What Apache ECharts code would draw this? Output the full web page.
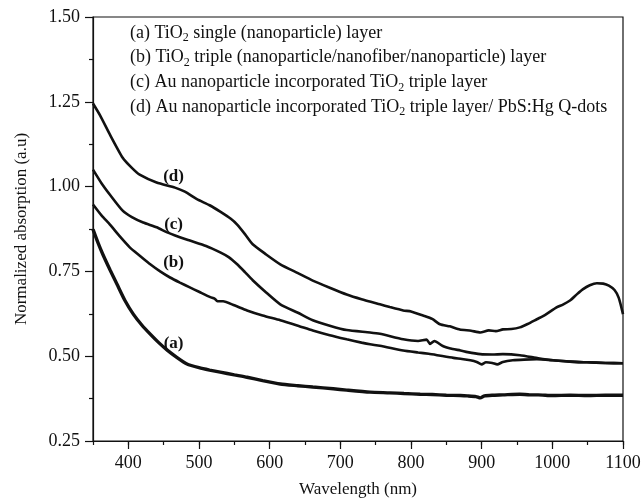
<!DOCTYPE html>
<html><head><meta charset="utf-8">
<script src="https://cdn.jsdelivr.net/npm/echarts@6/dist/echarts.min.js"></script>
<style>html,body{margin:0;padding:0;background:#fff}#c{width:644px;height:503px}</style>
</head><body><div id="c"></div>
<script>
// ---- data ----
const seriesNames = ['(a)', '(b)', '(c)', '(d)'];
const curveA = [[350,0.874],[357,0.835],[364,0.800],[374,0.755],[384,0.712],[395,0.665],[407,0.624],[419,0.592],[431,0.565],[443,0.540],[455,0.518],[469,0.496],[483,0.477],[500,0.466],[515,0.459],[530,0.453],[550,0.445],[568,0.438],[590,0.428],[615,0.418],[640,0.413],[661,0.409],[690,0.404],[709,0.400],[742,0.394],[770,0.392],[790,0.390],[813,0.388],[830,0.387],[850,0.385],[870,0.384],[880,0.383],[892,0.381],[898,0.377],[904,0.383],[915,0.385],[930,0.386],[954,0.388],[968,0.386],[980,0.386],[1000,0.384],[1025,0.385],[1050,0.384],[1075,0.385],[1100,0.385]];
const curveB = [[350,0.947],[362,0.915],[374,0.888],[388,0.853],[402,0.821],[417,0.795],[431,0.771],[445,0.750],[459,0.732],[473,0.717],[487,0.703],[500,0.690],[516,0.674],[522,0.670],[526,0.662],[534,0.662],[550,0.650],[568,0.635],[590,0.620],[615,0.606],[640,0.590],[661,0.576],[685,0.562],[709,0.550],[730,0.540],[742,0.535],[756,0.531],[789,0.517],[810,0.511],[825,0.507],[837,0.503],[860,0.495],[872,0.492],[884,0.488],[893,0.483],[900,0.476],[906,0.482],[915,0.480],[922,0.476],[930,0.483],[944,0.488],[960,0.490],[978,0.491],[1001,0.488],[1025,0.484],[1049,0.482],[1075,0.480],[1100,0.479]];
const curveC = [[350,1.050],[362,1.010],[374,0.976],[392,0.929],[405,0.910],[421,0.894],[440,0.880],[455,0.865],[470,0.853],[487,0.841],[510,0.825],[530,0.806],[542,0.792],[554,0.771],[565,0.748],[576,0.724],[595,0.688],[615,0.653],[640,0.628],[661,0.606],[685,0.590],[709,0.577],[742,0.570],[756,0.566],[789,0.550],[810,0.545],[822,0.549],[827,0.536],[833,0.545],[845,0.530],[859,0.521],[870,0.517],[880,0.512],[898,0.506],[915,0.505],[930,0.506],[954,0.503],[980,0.494],[1001,0.488],[1025,0.484],[1049,0.482],[1075,0.480],[1100,0.479]];
const curveD = [[350,1.245],[360,1.210],[374,1.153],[392,1.085],[405,1.055],[416,1.035],[440,1.012],[466,0.997],[480,0.985],[497,0.963],[515,0.945],[530,0.926],[545,0.905],[554,0.888],[565,0.860],[576,0.830],[595,0.800],[615,0.771],[640,0.745],[661,0.723],[685,0.702],[709,0.682],[730,0.668],[756,0.653],[770,0.645],[789,0.635],[800,0.632],[817,0.620],[830,0.610],[841,0.594],[855,0.588],[869,0.579],[885,0.575],[898,0.570],[910,0.576],[920,0.574],[930,0.579],[942,0.580],[954,0.585],[965,0.595],[978,0.609],[990,0.622],[1006,0.644],[1015,0.652],[1025,0.664],[1035,0.683],[1043,0.697],[1053,0.709],[1063,0.715],[1072,0.714],[1080,0.708],[1088,0.695],[1094,0.672],[1100,0.624]];
const curveLabelPos = [[464,0.536],[464,0.777],[464,0.889],[464,1.030]];
const legendLines = [
  ['(a) TiO', '2', ' single (nanoparticle) layer'],
  ['(b) TiO', '2', ' triple (nanoparticle/nanofiber/nanoparticle) layer'],
  ['(c) Au nanoparticle incorporated TiO', '2', ' triple layer'],
  ['(d) Au nanoparticle incorporated TiO', '2', ' triple layer/ PbS:Hg Q-dots']
];
const xMajorTicks = [400,500,600,700,800,900,1000,1100];
const xTitle = 'Wavelength (nm)';
const yTitle = 'Normalized absorption (a.u)';

// ---- chart ----
const FONT = '"Liberation Serif","DejaVu Serif",serif';
const INK = '#111';
const chart = echarts.init(document.getElementById('c'), null, {renderer:'canvas'});
const curves = [curveA, curveB, curveC, curveD];
const widths = [3.4, 2.6, 2.6, 2.6];

const series = curves.map((d, i) => ({
  type: 'line', name: seriesNames[i], data: d, showSymbol: false, smooth: 0.2,
  lineStyle: {color: INK, width: widths[i]}, itemStyle: {color: INK},
  silent: true, animation: false,
  markPoint: {
    symbol: 'circle', symbolSize: 1, itemStyle: {color: 'rgba(0,0,0,0)'},
    data: [{coord: curveLabelPos[i], label: {show: true, position: 'inside', formatter: seriesNames[i],
      color: INK, fontFamily: FONT, fontWeight: 'bold', fontSize: 17}}]
  }
}));

const graphics = legendLines.map((l, i) => ({
  type: 'text', left: 130, top: 24 + i * 24.7,
  style: {
    text: '{n|' + l[0] + '}{s|' + l[1] + '}{n|' + l[2] + '}',
    rich: {
      n: {fontFamily: FONT, fontSize: 18, fill: INK, color: INK},
      s: {fontFamily: FONT, fontSize: 12, fill: INK, color: INK, padding: [10, 0, 0, 0]}
    }
  }
}));

chart.setOption({
  animation: false,
  backgroundColor: '#fff',
  grid: {left: 93, right: 21, top: 17, bottom: 59, show: true, borderColor: INK, borderWidth: 1.2, backgroundColor: 'transparent'},
  xAxis: [{
    type: 'value', min: 350, max: 1100, interval: 50,
    axisLine: {show: true, lineStyle: {color: INK, width: 1.2}},
    axisTick: {show: true, length: 4, lineStyle: {color: INK, width: 1.2}},
    axisLabel: {margin: 13, color: INK, fontFamily: FONT, fontSize: 18, formatter: v => (v % 100 === 0 ? String(v) : '')},
    splitLine: {show: false},
    name: xTitle, nameLocation: 'middle', nameGap: 40,
    nameTextStyle: {color: INK, fontFamily: FONT, fontSize: 17}
  }, {
    type: 'value', min: 350, max: 1100, position: 'bottom',
    axisLine: {show: false},
    axisTick: {show: true, length: 8, customValues: xMajorTicks, lineStyle: {color: INK, width: 1.2}},
    axisLabel: {show: false},
    splitLine: {show: false}
  }],
  yAxis: {
    type: 'value', min: 0.25, max: 1.5, interval: 0.25,
    axisLine: {show: true, lineStyle: {color: INK, width: 1.2}},
    axisTick: {show: true, length: 8, lineStyle: {color: INK, width: 1.2}},
    minorTick: {show: true, splitNumber: 2, length: 4, lineStyle: {color: INK, width: 1.2}},
    axisLabel: {margin: 13, color: INK, fontFamily: FONT, fontSize: 18, formatter: v => v.toFixed(2)},
    splitLine: {show: false},
    name: yTitle, nameLocation: 'middle', nameGap: 63,
    nameTextStyle: {color: INK, fontFamily: FONT, fontSize: 17}
  },
  graphic: graphics,
  series: series
});
</script></body></html>
